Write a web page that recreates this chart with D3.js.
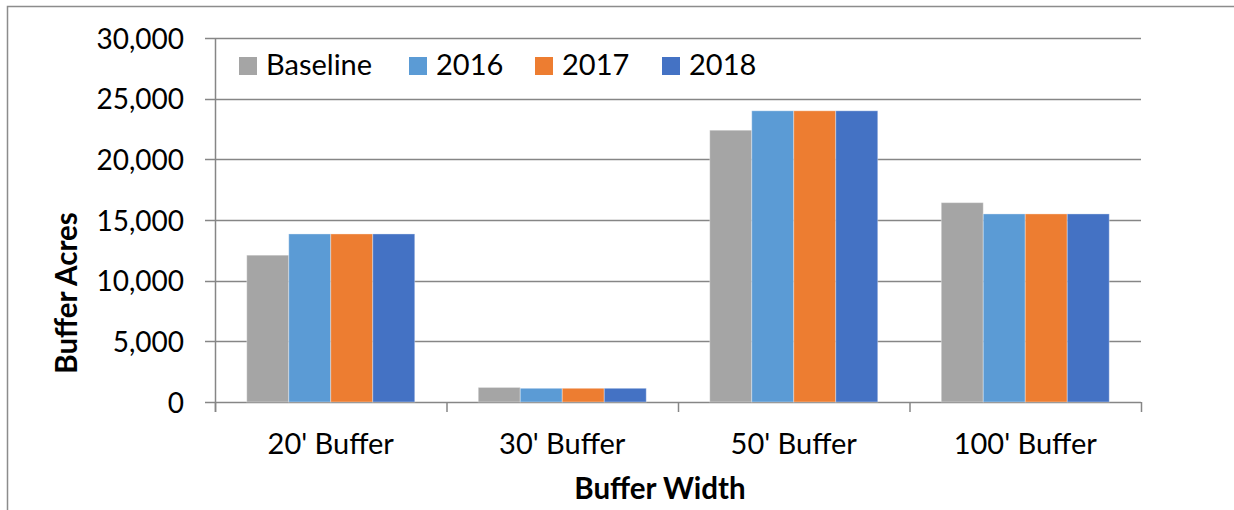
<!DOCTYPE html>
<html>
<head>
<meta charset="utf-8">
<script src="https://cdn.jsdelivr.net/npm/d3@7"></script>
<style>
  body { margin: 0; background: #fff; }
  svg text { font-family: Lato, "Open Sans", sans-serif; fill: #000; }
</style>
</head>
<body>
<div id="chart"></div>
<script>
// data
const categories = ["20' Buffer", "30' Buffer", "50' Buffer", "100' Buffer"]
const seriesNames = ['Baseline', '2016', '2017', '2018']
const baseline = [12100, 1200, 22400, 16430]
const y2016 = [13850, 1130, 24000, 15500]
const y2017 = [13850, 1130, 24000, 15500]
const y2018 = [13850, 1130, 24000, 15500]
const seriesColors = ['#A5A5A5', '#5B9BD5', '#ED7D31', '#4472C4']
const yTicks = [0, 5000, 10000, 15000, 20000, 25000, 30000]

const seriesValues = [baseline, y2016, y2017, y2018]

const width = 1234
const height = 510
const margin = { top: 38, right: 93, bottom: 108, left: 215 }
const w = width - margin.left - margin.right
const h = height - margin.top - margin.bottom

const svg = d3.select('#chart').append('svg')
    .attr('width', width)
    .attr('height', height)

// outer frame
svg.append('rect')
    .attr('x', 7.5)
    .attr('y', 6.5)
    .attr('width', 1240)
    .attr('height', 540)
    .attr('fill', 'none')
    .attr('stroke', '#8c8c8c')
    .attr('stroke-width', 1.5)

const g = svg.append('g')
    .attr('transform', `translate(${margin.left}, ${margin.top})`)

const xScale = d3.scaleBand()
    .domain(categories)
    .range([0, w])
    .padding(0)
const xInner = d3.scaleBand()
    .domain(seriesNames)
    .range([31.75, xScale.bandwidth() - 31.75])
    .padding(0)
const yScale = d3.scaleLinear()
    .domain([0, 30000])
    .range([h, 0])

// gridlines
g.append('g')
    .attr('class', 'grid')
    .selectAll('line')
    .data(yTicks)
    .join('line')
    .attr('x1', -10)
    .attr('x2', w)
    .attr('y1', d => Math.round(yScale(d)) + 0.5)
    .attr('y2', d => Math.round(yScale(d)) + 0.5)
    .attr('stroke', '#868686')
    .attr('stroke-width', 1.5)

// bars
const rows = categories.map((c, i) => ({
    cat: c,
    vals: seriesNames.map((s, j) => ({ key: s, value: seriesValues[j][i], color: seriesColors[j] }))
}))
g.append('g')
    .selectAll('g')
    .data(rows)
    .join('g')
    .attr('transform', d => `translate(${xScale(d.cat)}, 0)`)
    .selectAll('rect')
    .data(d => d.vals)
    .join('rect')
    .attr('x', d => xInner(d.key))
    .attr('width', xInner.bandwidth())
    .attr('y', d => yScale(d.value))
    .attr('height', d => h - yScale(d.value))
    .attr('fill', d => d.color)
    .attr('stroke', 'rgba(255,255,255,0.35)')
    .attr('stroke-width', 1)

// y axis
const yAxis = g.append('g')
    .call(d3.axisLeft(yScale)
        .tickValues(yTicks)
        .tickSize(10)
        .tickPadding(21)
        .tickFormat(d3.format(',')))
yAxis.select('.domain').attr('stroke', '#868686').attr('stroke-width', 1.5)
    .attr('d', `M0.5,${h + 10}V0`)
yAxis.selectAll('.tick line').remove()
yAxis.selectAll('text')
    .style('font-size', '28px')
    .attr('dy', '0.36em')

// x axis
const xAxis = g.append('g')
    .attr('transform', `translate(0, ${h})`)
    .call(d3.axisBottom(xScale).tickSize(0).tickPadding(31))
xAxis.select('.domain').remove()
xAxis.selectAll('text')
    .style('font-size', '29px')
xAxis.append('g')
    .selectAll('line')
    .data(d3.range(categories.length + 1))
    .join('line')
    .attr('x1', i => i * xScale.step() + 0.5)
    .attr('x2', i => i * xScale.step() + 0.5)
    .attr('y1', 0)
    .attr('y2', 10)
    .attr('stroke', '#868686')
    .attr('stroke-width', 1.5)

// axis titles
svg.append('text')
    .attr('x', 660)
    .attr('y', 499)
    .attr('text-anchor', 'middle')
    .style('font-size', '29.5px')
    .style('font-weight', 'bold')
    .text('Buffer Width')
svg.append('text')
    .attr('transform', 'translate(77, 293) rotate(-90)')
    .attr('text-anchor', 'middle')
    .style('font-size', '29.5px')
    .style('font-weight', 'bold')
    .text('Buffer Acres')

// legend
const legendX = [239, 409, 535, 662]
const legend = svg.append('g')
    .selectAll('g')
    .data(seriesNames)
    .join('g')
    .attr('transform', (d, i) => `translate(${legendX[i]}, 57)`)
legend.append('rect')
    .attr('width', 18)
    .attr('height', 18)
    .attr('fill', (d, i) => seriesColors[i])
legend.append('text')
    .attr('x', 27)
    .attr('y', 18)
    .style('font-size', '29px')
    .text(d => d)
</script>
</body>
</html>
